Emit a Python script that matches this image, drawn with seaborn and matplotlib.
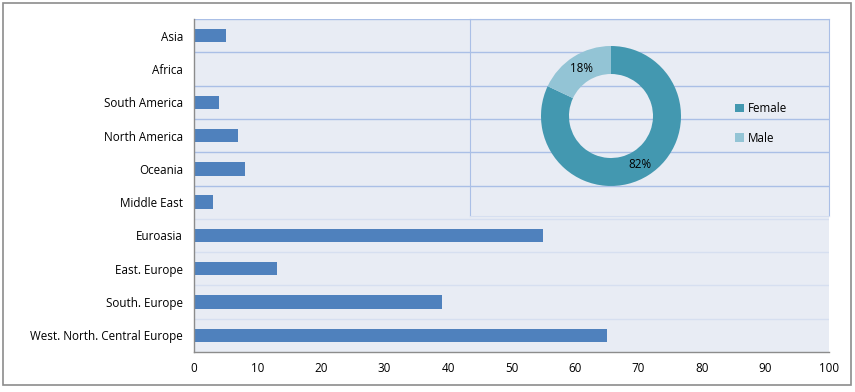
import pandas as pd
import matplotlib
matplotlib.use("Agg")
import matplotlib.pyplot as plt
from matplotlib.patches import Rectangle, Patch
import seaborn as sns

regions = ["Asia", "Africa", "South America", "North America", "Oceania",
           "Middle East", "Euroasia", "East. Europe", "South. Europe",
           "West. North. Central Europe"]
counts = [5, 0, 4, 7, 8, 3, 55, 13, 39, 65]

genders = ["Female", "Male"]
gender_share = [82, 18]
gender_colors = ["#4398b0", "#93c4d5"]

df = pd.DataFrame({"region": regions, "count": counts})

sns.set_style("white")
plt.rcParams["font.family"] = ["Open Sans", "DejaVu Sans"]
plt.rcParams["text.color"] = "black"
plt.rcParams["xtick.labelcolor"] = "black"
plt.rcParams["ytick.labelcolor"] = "black"

W, H = 855, 392
fig = plt.figure(figsize=(W / 100, H / 100), dpi=100)

# outer border of the picture
fig.patches.append(Rectangle((3 / W, 1 - 385 / H), 848 / W, 382 / H,
                             transform=fig.transFigure, fill=False,
                             edgecolor="#8c8c8c", linewidth=1.2))

# main bar chart
ax = fig.add_axes([194 / W, 1 - 352 / H, 635 / W, 333 / H])
ax.set_facecolor("#e8ecf4")
sns.barplot(data=df, x="count", y="region", orient="h", color="#4f81bd",
            width=0.4, saturation=1, linewidth=0, ax=ax)
ax.set_xlim(0, 100)
ax.set_ylim(9.5, -0.5)
ax.set_xticks(range(0, 101, 10))
ax.set_xlabel("")
ax.set_ylabel("")
ax.tick_params(axis="x", length=4, color="#8c8c8c", labelsize=8.4, pad=3,
               labelcolor="black")
ax.tick_params(axis="y", length=0, labelsize=8.4, pad=8, labelcolor="black")
for s in ["top", "right"]:
    ax.spines[s].set_visible(False)
for s in ["left", "bottom"]:
    ax.spines[s].set_color("#8c8c8c")
    ax.spines[s].set_linewidth(1.0)

# category separators
for yv in [-0.5, 0.5, 1.5, 2.5, 3.5, 4.5, 5.5, 6.5, 7.5, 8.5]:
    c = "#aabfe6" if yv < 5 else "#d6dff0"
    ax.axhline(yv, color=c, linewidth=1.0, zorder=0.5)

# frame of the inset donut chart
fr = fig.add_axes([470 / W, 1 - 216 / H, 359 / W, 197 / H])
fr.set_facecolor("none")
fr.set_xticks([])
fr.set_yticks([])
fr.spines["left"].set_color("#aabfe6")
fr.spines["right"].set_color("#aabfe6")
fr.spines["top"].set_color("#aabfe6")
fr.spines["bottom"].set_color("#d6dff0")

# donut
pax = fig.add_axes([541 / W, 1 - 186 / H, 140 / W, 140 / H])
pax.pie(gender_share, colors=gender_colors, startangle=90, counterclock=False,
        wedgeprops=dict(width=0.4, linewidth=0), radius=1)
pax.set_xlim(-1, 1)
pax.set_ylim(-1, 1)
pax.text(-0.42, 0.68, f"{gender_share[1]}%", ha="center", va="center", fontsize=8.4)
pax.text(0.41, -0.70, f"{gender_share[0]}%", ha="center", va="center", fontsize=8.4)

handles = [Patch(facecolor=c, edgecolor="none") for c in gender_colors]
fr.legend(handles, genders, loc="center left", bbox_to_anchor=(0.71, 0.47),
          frameon=False, fontsize=8.4, handlelength=0.7, handleheight=0.7,
          handletextpad=0.4, labelspacing=1.4)

fig.savefig("out.png", dpi=100)
